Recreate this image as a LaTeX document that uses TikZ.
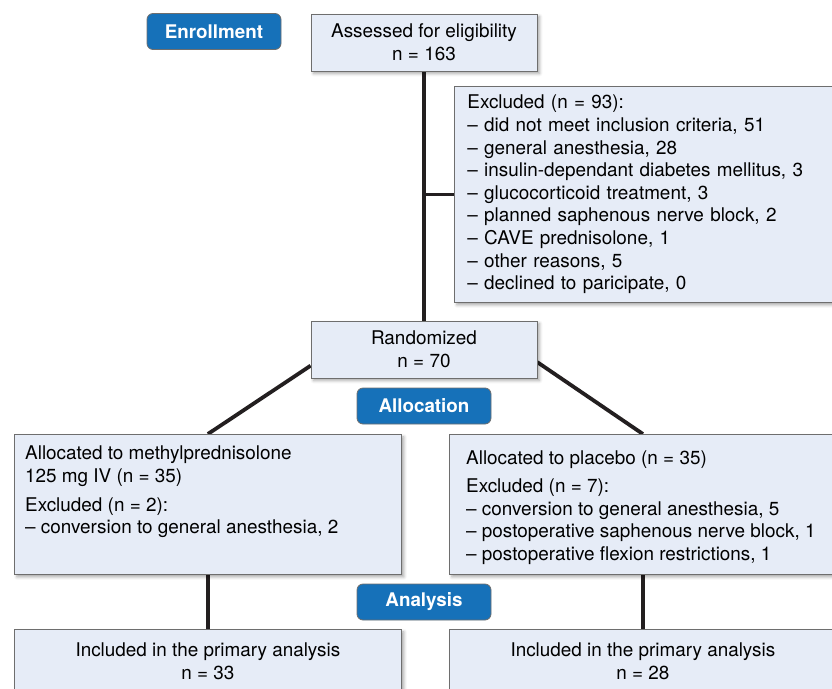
\documentclass[tikz,border=0pt]{standalone}
\usepackage{fontspec}
\setmainfont{TeX Gyre Heros}
\usetikzlibrary{shadows.blur,calc}
\definecolor{boxfill}{HTML}{E6ECF7}
\definecolor{boxdraw}{HTML}{6E6E6E}
\definecolor{phase}{HTML}{1671B9}
\definecolor{linecol}{HTML}{231F20}
\pgfdeclarelayer{background}
\pgfsetlayers{background,main}
\begin{document}
\begin{tikzpicture}[x=1pt,y=-1pt,
  box/.style={draw=boxdraw, line width=0.8pt, fill=boxfill,
    blur shadow={shadow xshift=2.5pt, shadow yshift=-2.5pt, shadow blur radius=3pt, shadow opacity=35},
    inner sep=0pt, font=\fontsize{18.9}{22.6}\selectfont, align=center},
  phasebox/.style={draw=boxdraw, line width=0.8pt, fill=phase, rounded corners=6pt, text=white,
    font=\fontsize{18.8}{22}\selectfont\bfseries, minimum width=134pt, minimum height=36pt, inner sep=0pt},
  txt/.style={inner sep=0pt, align=left, anchor=north west, font=\fontsize{18.9}{22.6}\selectfont},
  conn/.style={draw=linecol, line width=3.8pt}]
\clip (0,0) rectangle (832,688);
\node[phasebox] (enr) at (214,31.5) {Enrollment};
\node[box, minimum width=226, minimum height=57] (ass) at (424,42.5) {Assessed for eligibility\\n = 163};
\node[box, anchor=north west, minimum height=216, text width=356, inner xsep=13, align=left] (exc) at (454,86)
  {Excluded (n = 93):\\
   \textendash{} did not meet inclusion criteria, 51\\
   \textendash{} general anesthesia, 28\\
   \textendash{} insulin-dependant diabetes mellitus, 3\\
   \textendash{} glucocorticoid treatment, 3\\
   \textendash{} planned saphenous nerve block, 2\\
   \textendash{} CAVE prednisolone, 1\\
   \textendash{} other reasons, 5\\
   \textendash{} declined to paricipate, 0};
\node[box, minimum width=226, minimum height=57] (rand) at (424,349.5) {Randomized\\n = 70};
\node[phasebox] (alloc) at (424,406) {Allocation};
\node[box, anchor=north west, minimum width=387, minimum height=140] (mp) at (14,434) {};
\node[txt] (mptxt) at (25,446) {Allocated to methylprednisolone\\125 mg IV (n = 35)\\[6pt]Excluded (n = 2):\\\textendash{} conversion to general anesthesia, 2};
\node[box, anchor=north west, minimum width=387, minimum height=140] (pl) at (449,434) {};
\node[txt] (pltxt) at (466,451) {Allocated to placebo (n = 35)\\[5pt]Excluded (n = 7):\\\textendash{} conversion to general anesthesia, 5\\\textendash{} postoperative saphenous nerve block, 1\\\textendash{} postoperative flexion restrictions, 1};
\node[phasebox] (ana) at (424,602) {Analysis};
\node[box, anchor=north west, minimum width=387, minimum height=64] (incl) at (14,629) {Included in the primary analysis\\n = 33};
\node[box, anchor=north west, minimum width=387, minimum height=64] (incr) at (449,629) {Included in the primary analysis\\n = 28};
\begin{pgfonlayer}{background}
\draw[conn] (ass.south) -- (rand.north);
\draw[conn] (ass.south |- exc.west) -- (exc.west);
\draw[conn] ($(rand.south west)!0.22!(rand.north west)$) -- (mp.north);
\draw[conn] ($(rand.south east)!0.28!(rand.north east)$) -- (pl.north);
\draw[conn] (mp.south) -- (incl.north);
\draw[conn] (pl.south) -- (incr.north);
\end{pgfonlayer}
\end{tikzpicture}
\end{document}
